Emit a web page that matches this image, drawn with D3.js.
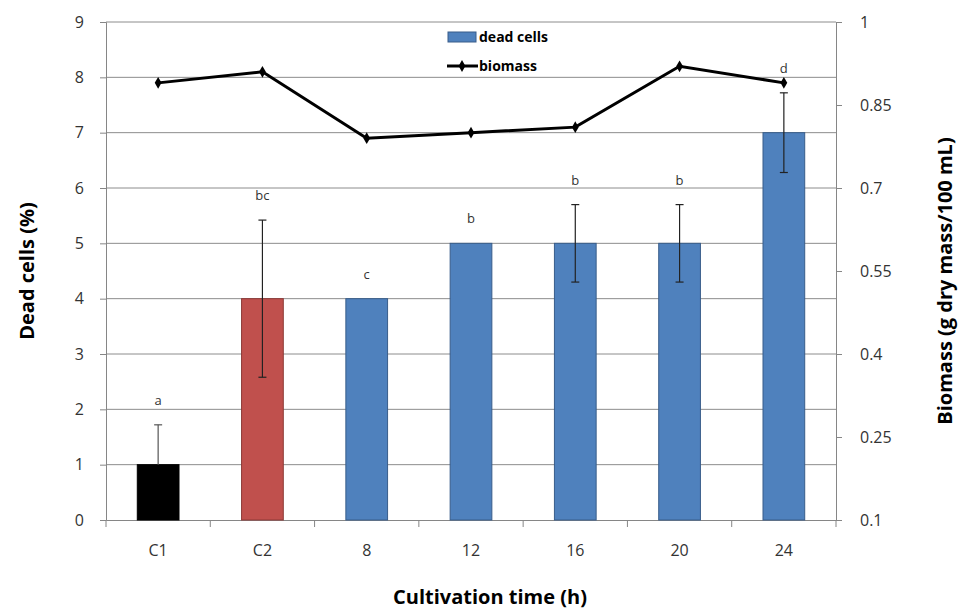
<!DOCTYPE html>
<html><head><meta charset="utf-8">
<script src="https://cdn.jsdelivr.net/npm/d3@7"></script>
<style>body{margin:0;background:#fff}text{font-family:"Open Sans","Liberation Sans",sans-serif}</style>
</head><body><svg id="c" width="960" height="611"></svg>
<script>
const categories = ["C1","C2","8","12","16","20","24"];
const deadCells = [1,4,4,5,5,5,7];
const deadErr = [0.72,1.42,0,0,0.7,0.7,0.72];
const letters = ["a","bc","c","b","b","b","d"];
const barColors = ["#000000","#C0504D","#4F81BD","#4F81BD","#4F81BD","#4F81BD","#4F81BD"];
const barStroke = ["#000000","#8C3836","#385D8A","#385D8A","#385D8A","#385D8A","#385D8A"];
const biomass = [0.89,0.91,0.79,0.80,0.81,0.92,0.89];
const leftTicks = [0,1,2,3,4,5,6,7,8,9];
const rightTicks = [0.1,0.25,0.4,0.55,0.7,0.85,1];

const svg = d3.select("#c");
const L=106,R=836,T=22,B=520;
const x = d3.scaleBand().domain(categories).range([L,R]).paddingInner(0.6).paddingOuter(0.3);
const y = d3.scaleLinear().domain([0,9]).range([B,T]);
const y2 = d3.scaleLinear().domain([0.1,1]).range([B,T]);

// gridlines
svg.append("g").selectAll("line").data(leftTicks.filter(d=>d>0)).join("line")
 .attr("x1",L).attr("x2",R).attr("y1",d=>y(d)).attr("y2",d=>y(d))
 .attr("stroke","#8c8c8c").attr("stroke-width",1);

// axes
const gl = svg.append("g").attr("transform",`translate(${L},0)`)
 .call(d3.axisLeft(y).tickValues(leftTicks).tickSize(6).tickPadding(16));
const gr = svg.append("g").attr("transform",`translate(${R},0)`)
 .call(d3.axisRight(y2).tickValues(rightTicks).tickSize(6).tickPadding(18).tickFormat(d=>String(d)));
const gb = svg.append("g").attr("transform",`translate(0,${B})`)
 .call(d3.axisBottom(x).tickSize(0).tickPadding(25));
[gl,gr,gb].forEach(g=>{
  g.selectAll("path,line").attr("stroke","#868686");
  g.selectAll("text").attr("font-size",16).attr("fill","#333");
});
// bottom category separator ticks
const seps = d3.range(categories.length+1).map(i=>L+i*(R-L)/categories.length);
svg.append("g").selectAll("line").data(seps).join("line")
 .attr("x1",d=>d).attr("x2",d=>d).attr("y1",B).attr("y2",B+7).attr("stroke","#868686");

// bars
svg.append("g").selectAll("rect").data(categories).join("rect")
 .attr("x",d=>x(d)).attr("width",x.bandwidth())
 .attr("y",(d,i)=>y(deadCells[i])).attr("height",(d,i)=>B-y(deadCells[i]))
 .attr("fill",(d,i)=>barColors[i]).attr("stroke",(d,i)=>barStroke[i]).attr("stroke-width",1);

// error bars
const eg = svg.append("g").attr("stroke-width",1.2);
categories.forEach((c,i)=>{
  if(!deadErr[i]) return;
  const cx = x(c)+x.bandwidth()/2;
  const col = i===0 ? "#555" : "#222";
  const y1 = y(deadCells[i]+deadErr[i]), y0 = y(deadCells[i]-deadErr[i]);
  eg.append("line").attr("stroke",col).attr("x1",cx).attr("x2",cx).attr("y1",y1).attr("y2",i===0?y(deadCells[i]):y0);
  eg.append("line").attr("stroke",col).attr("x1",cx-4).attr("x2",cx+4).attr("y1",y1).attr("y2",y1);
  if(i!==0) eg.append("line").attr("stroke",col).attr("x1",cx-4).attr("x2",cx+4).attr("y1",y0).attr("y2",y0);
});
// letters
svg.append("g").selectAll("text").data(categories).join("text")
 .attr("x",d=>x(d)+x.bandwidth()/2)
 .attr("y",(d,i)=>y(deadCells[i]+deadErr[i])-20)
 .attr("text-anchor","middle").attr("font-size",13).attr("fill","#333")
 .text((d,i)=>letters[i]);

// biomass line
const line = d3.line().x((d,i)=>x(categories[i])+x.bandwidth()/2).y(d=>y2(d));
svg.append("path").datum(biomass).attr("d",line).attr("fill","none")
 .attr("stroke","#000").attr("stroke-width",3);
svg.append("g").selectAll("path").data(biomass).join("path")
 .attr("d",d3.symbol(d3.symbolDiamond,40))
 .attr("transform",(d,i)=>`translate(${x(categories[i])+x.bandwidth()/2},${y2(d)})`)
 .attr("fill","#000");

// legend
svg.append("rect").attr("x",448).attr("y",32).attr("width",28).attr("height",10)
 .attr("fill","#4F81BD").attr("stroke","#385D8A");
svg.append("text").attr("x",479).attr("y",42).attr("font-size",14).attr("font-weight","bold").text("dead cells");
svg.append("line").attr("x1",447).attr("x2",478).attr("y1",66).attr("y2",66).attr("stroke","#000").attr("stroke-width",3);
svg.append("path").attr("d",d3.symbol(d3.symbolDiamond,40)).attr("transform","translate(462,66)");
svg.append("text").attr("x",479).attr("y",71).attr("font-size",14).attr("font-weight","bold").text("biomass");

// titles
svg.append("text").attr("transform",`translate(34,${(T+B)/2}) rotate(-90)`)
 .attr("text-anchor","middle").attr("font-size",20).attr("font-weight","bold").text("Dead cells (%)");
svg.append("text").attr("transform",`translate(952,${(T+B)/2+10}) rotate(-90)`)
 .attr("text-anchor","middle").attr("font-size",20).attr("font-weight","bold").text("Biomass (g dry mass/100 mL)");
svg.append("text").attr("x",490).attr("y",604).attr("text-anchor","middle")
 .attr("font-size",20).attr("font-weight","bold").text("Cultivation time (h)");
</script></body></html>
